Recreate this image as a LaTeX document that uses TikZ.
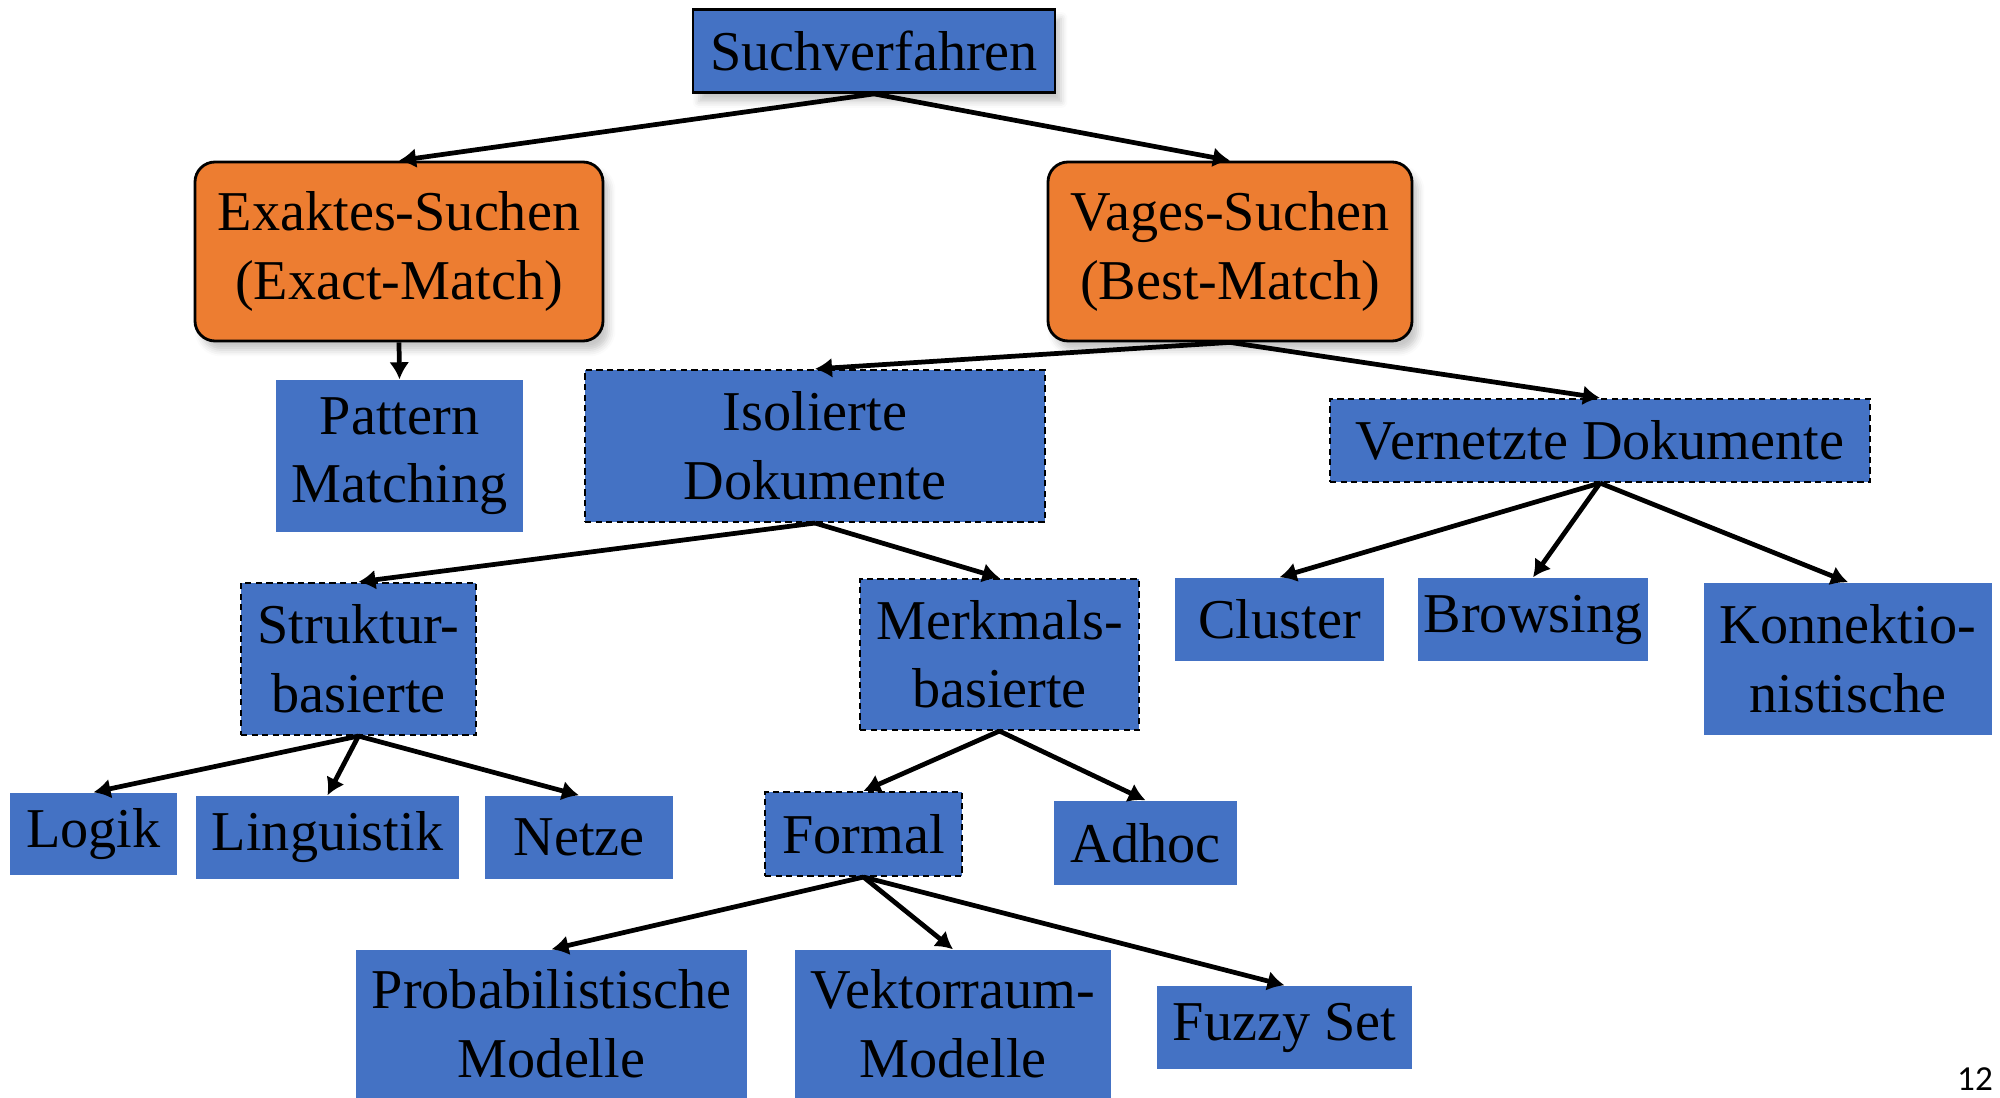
\documentclass[tikz,border=0pt]{standalone}
\usepackage{fontspec}
\setmainfont{Liberation Serif}
\newfontfamily\pagefont{Carlito}
\usetikzlibrary{arrows.meta,shadows.blur}
\definecolor{blau}{HTML}{4472C4}
\definecolor{orng}{HTML}{ED7D31}

\begin{document}
\begin{tikzpicture}[>={Latex[length=1.7mm,width=2mm]},
    box/.style={fill=blau,inner sep=0pt,align=center,font=\fontsize{16}{19.5}\selectfont},
    dbox/.style={box,draw,line width=0.6pt,dash pattern=on 1.8pt off 1.2pt},
    obox/.style={box,fill=orng,draw,line width=0.8pt,rounded corners=0.2cm,
        blur shadow={shadow xshift=0.6mm,shadow yshift=-0.9mm,shadow opacity=22}},
    pfeil/.style={->,line width=1.35pt}]
    \useasboundingbox (0,0) rectangle (20,-10.98);
    % oberste Ebene
    \node[box,draw,line width=0.8pt,blur shadow={shadow xshift=0.6mm,shadow yshift=-0.9mm,shadow opacity=22},
        minimum width=3.62cm,minimum height=0.83cm] (such) at (8.74,-0.51) {Suchverfahren};
    \node[obox,minimum width=4.08cm,minimum height=1.79cm] (exakt) at (3.99,-2.515) {Exaktes-Suchen\\(Exact-Match)};
    \node[obox,minimum width=3.64cm,minimum height=1.79cm] (vage) at (12.30,-2.515) {Vages-Suchen\\(Best-Match)};
    % zweite Ebene
    \node[box,minimum width=2.47cm,minimum height=1.52cm] (pattern) at (3.995,-4.56) {Pattern\\Matching};
    \node[dbox,minimum width=4.60cm,minimum height=1.52cm] (isol) at (8.15,-4.46) {Isolierte\\Dokumente};
    \node[dbox,minimum width=5.40cm,minimum height=0.83cm] (vernetzt) at (16.00,-4.405) {Vernetzte Dokumente};
    % dritte Ebene
    \node[dbox,minimum width=2.35cm,minimum height=1.52cm] (struktur) at (3.585,-6.59) {Struktur-\\basierte};
    \node[dbox,minimum width=2.79cm,minimum height=1.51cm] (merkmal) at (9.995,-6.545) {Merkmals-\\basierte};
    \node[box,minimum width=2.09cm,minimum height=0.83cm] (cluster) at (12.795,-6.195) {Cluster};
    \node[box,minimum width=2.30cm,minimum height=0.83cm] (browsing) at (15.33,-6.195) {Browsing};
    \node[box,minimum width=2.88cm,minimum height=1.52cm] (konnekt) at (18.48,-6.59) {Konnektio-\\nistische};
    % vierte Ebene
    \node[box,minimum width=1.67cm,minimum height=0.82cm] (logik) at (0.935,-8.34) {Logik};
    \node[box,minimum width=2.63cm,minimum height=0.83cm] (lingu) at (3.275,-8.375) {Linguistik};
    \node[box,minimum width=1.88cm,minimum height=0.83cm] (netze) at (5.79,-8.375) {Netze};
    \node[dbox,minimum width=1.97cm,minimum height=0.84cm] (formal) at (8.635,-8.34) {Formal};
    \node[box,minimum width=1.83cm,minimum height=0.84cm] (adhoc) at (11.455,-8.43) {Adhoc};
    % unterste Ebene
    \node[box,minimum width=3.91cm,minimum height=1.48cm] (prob) at (5.515,-10.24) {Probabilistische\\Modelle};
    \node[box,minimum width=3.16cm,minimum height=1.48cm] (vektor) at (9.53,-10.24) {Vektorraum-\\Modelle};
    \node[box,minimum width=2.55cm,minimum height=0.83cm] (fuzzy) at (12.845,-10.275) {Fuzzy Set};
    \node[font=\pagefont\fontsize{10}{12}\selectfont,inner sep=0pt] (seite) at (19.75,-10.79) {12};
    % Pfeile
    \draw[pfeil] (such.south) -- (exakt.north);
    \draw[pfeil] (such.south) -- (vage.north);
    \draw[pfeil] (exakt.south) -- (pattern.north);
    \draw[pfeil] (vage.south) -- (isol.north);
    \draw[pfeil] (vage.south) -- (vernetzt.north);
    \draw[pfeil] (isol.south) -- (struktur.north);
    \draw[pfeil] (isol.south) -- (merkmal.north);
    \draw[pfeil] (vernetzt.south) -- (cluster.north);
    \draw[pfeil] (vernetzt.south) -- (browsing.north);
    \draw[pfeil] (vernetzt.south) -- (konnekt.north);
    \draw[pfeil] (struktur.south) -- (logik.north);
    \draw[pfeil] (struktur.south) -- (lingu.north);
    \draw[pfeil] (struktur.south) -- (netze.north);
    \draw[pfeil] (merkmal.south) -- (formal.north);
    \draw[pfeil] (merkmal.south) -- (adhoc.north);
    \draw[pfeil] (formal.south) -- (prob.north);
    \draw[pfeil] (formal.south) -- (vektor.north);
    \draw[pfeil] (formal.south) -- (fuzzy.north);
\end{tikzpicture}
\end{document}
